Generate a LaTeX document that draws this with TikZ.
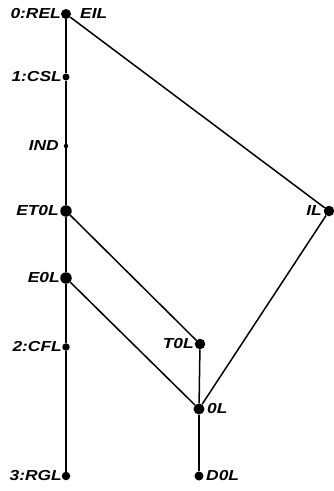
\documentclass[tikz,border=0pt]{standalone}
\usepackage{fontspec}
\setmainfont{Liberation Sans}
\newcommand{\lw}[1]{\scalebox{1.2}[1]{#1}}
\begin{document}
\begin{tikzpicture}[x=1pt,y=-1pt,
  dot/.style={circle,fill=black,inner sep=0pt,minimum size=#1},
  lbl/.style={inner sep=0pt,font=\fontsize{14.5}{16}\selectfont\bfseries\itshape},
  edge/.style={line width=1.5pt}]
\useasboundingbox (0,0) rectangle (333,491);
\node[dot=10pt] (rel) at (66,14) {};
\node[dot=7pt] (csl) at (66,77) {};
\node[dot=4.5pt] (ind) at (66,146) {};
\node[dot=11.5pt] (et0l) at (66,211) {};
\node[dot=11.5pt] (e0l) at (66,278) {};
\node[dot=7.5pt] (cfl) at (66,347) {};
\node[dot=8.5pt] (rgl) at (66,476) {};
\node[dot=10.5pt] (t0l) at (200,344) {};
\node[dot=11pt] (zl) at (199,409) {};
\node[dot=9pt] (d0l) at (199,476) {};
\node[dot=10.5pt] (il) at (329,211) {};
\draw[edge] (rel) -- (csl) -- (ind) -- (et0l) -- (e0l) -- (cfl) -- (rgl);
\draw[edge] (rel) -- (il);
\draw[edge] (et0l) -- (t0l);
\draw[edge] (e0l) -- (zl);
\draw[edge] (t0l) -- (zl);
\draw[edge] (il) -- (zl);
\draw[edge] (zl) -- (d0l);
\node[lbl,anchor=east] (lrel) at (61,14) {\lw{0:REL}};
\node[lbl,anchor=west] (leil) at (80,14) {\lw{EIL}};
\node[lbl,anchor=east] (lcsl) at (62,77) {\lw{1:CSL}};
\node[lbl,anchor=east] (lind) at (59,146) {\lw{IND}};
\node[lbl,anchor=east] (let0l) at (59,211) {\lw{ET0L}};
\node[lbl,anchor=east] (le0l) at (60,278) {\lw{E0L}};
\node[lbl,anchor=east] (lcfl) at (62,347) {\lw{2:CFL}};
\node[lbl,anchor=east] (lrgl) at (62,476) {\lw{3:RGL}};
\node[lbl,anchor=east] (lt0l) at (194,344) {\lw{T0L}};
\node[lbl,anchor=west] (lzl) at (207,409) {\lw{0L}};
\node[lbl,anchor=west] (ld0l) at (206,476) {\lw{D0L}};
\node[lbl,anchor=east] (lil) at (322,211) {\lw{IL}};
\end{tikzpicture}
\end{document}
